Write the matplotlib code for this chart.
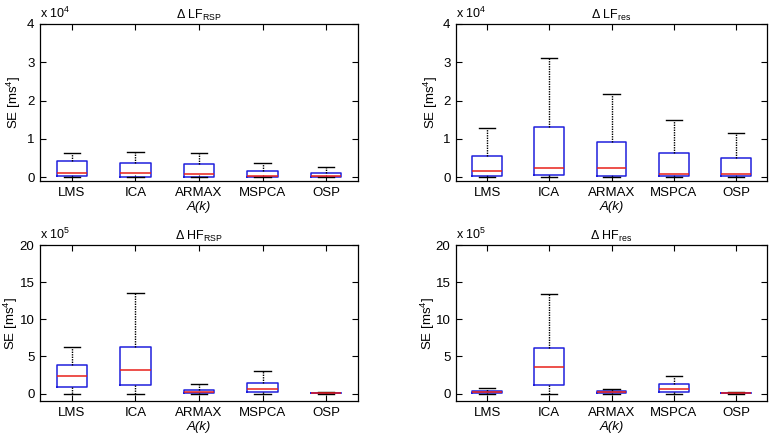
import matplotlib
matplotlib.use("Agg")
import matplotlib.pyplot as plt
from matplotlib.ticker import FuncFormatter

methods = ["LMS", "ICA", "ARMAX", "MSPCA", "OSP"]

# LF_RSP (ms^4)
lf_rsp_wlo = [0, 0, 0, 0, 0]
lf_rsp_q1 = [200, 100, 100, 100, 100]
lf_rsp_med = [1000, 1000, 800, 300, 400]
lf_rsp_q3 = [4300, 3800, 3500, 1600, 1000]
lf_rsp_whi = [6300, 6500, 6300, 3700, 2600]

# LF_res
lf_res_wlo = [0, 0, 0, 0, 0]
lf_res_q1 = [300, 500, 400, 200, 300]
lf_res_med = [1600, 2400, 2300, 900, 700]
lf_res_q3 = [5400, 13000, 9300, 6400, 4900]
lf_res_whi = [12900, 31000, 21700, 15000, 11500]

# HF_RSP
hf_rsp_wlo = [0, 0, 0, 0, 0]
hf_rsp_q1 = [85000, 120000, 5000, 18000, 2000]
hf_rsp_med = [234000, 320000, 27000, 63000, 5000]
hf_rsp_q3 = [382000, 630000, 50000, 140000, 10000]
hf_rsp_whi = [630000, 1360000, 130000, 300000, 22000]

# HF_res
hf_res_wlo = [0, 0, 0, 0, 0]
hf_res_q1 = [7000, 117000, 7000, 22000, 2000]
hf_res_med = [20000, 360000, 22000, 60000, 5000]
hf_res_q3 = [36000, 610000, 35000, 126000, 7000]
hf_res_whi = [77000, 1340000, 63000, 234000, 15000]

panels = [
    (r"$\Delta$ LF$_{\mathregular{RSP}}$", lf_rsp_wlo, lf_rsp_q1, lf_rsp_med, lf_rsp_q3, lf_rsp_whi, 4, [0, 1, 2, 3, 4], (-0.1, 4.0)),
    (r"$\Delta$ LF$_{\mathregular{res}}$", lf_res_wlo, lf_res_q1, lf_res_med, lf_res_q3, lf_res_whi, 4, [0, 1, 2, 3, 4], (-0.1, 4.0)),
    (r"$\Delta$ HF$_{\mathregular{RSP}}$", hf_rsp_wlo, hf_rsp_q1, hf_rsp_med, hf_rsp_q3, hf_rsp_whi, 5, [0, 5, 10, 15, 20], (-1.0, 20.0)),
    (r"$\Delta$ HF$_{\mathregular{res}}$", hf_res_wlo, hf_res_q1, hf_res_med, hf_res_q3, hf_res_whi, 5, [0, 5, 10, 15, 20], (-1.0, 20.0)),
]

plt.rcParams["font.family"] = ["Liberation Sans", "DejaVu Sans"]
plt.rcParams["mathtext.fontset"] = "custom"
plt.rcParams["mathtext.rm"] = "Liberation Sans"

fig = plt.figure(figsize=(7.76, 4.36), dpi=100)
W, H = 776, 436
rects = [
    (40, 24, 358, 181),
    (456, 24, 767, 181),
    (40, 245, 358, 401),
    (456, 245, 767, 401),
]
ylabel_x = [23, 440, 20, 437]

for (title, wlo, q1, med, q3, whi, exp, ticks, ylim), (l, t, r, b), lx in zip(panels, rects, ylabel_x):
    ax = fig.add_axes([l / W, 1 - b / H, (r - l) / W, (b - t) / H])
    scale = 10 ** exp
    stats = []
    for i, m in enumerate(methods):
        stats.append(dict(label=m, whislo=wlo[i], q1=q1[i], med=med[i], q3=q3[i], whishi=whi[i], fliers=[]))
    ax.bxp(stats, positions=range(1, 6), widths=0.48, capwidths=0.26, showfliers=False,
           boxprops=dict(color="#1f1fdd", linewidth=1.1),
           medianprops=dict(color="#e8201a", linewidth=1.1),
           whiskerprops=dict(color="black", linestyle=(0, (1.0, 0.8)), linewidth=1.0),
           capprops=dict(color="black", linewidth=1.0))
    ax.set_xlim(0.5, 5.5)
    ax.set_ylim(ylim[0] * scale, ylim[1] * scale)
    ax.set_yticks([v * scale for v in ticks])
    ax.yaxis.set_major_formatter(FuncFormatter(lambda v, p, s=scale: "%g" % round(v / s, 6)))
    ax.set_xticks(range(1, 6))
    ax.set_xticklabels(methods)
    ax.tick_params(direction="in", top=True, right=True, length=4, width=0.8, labelsize=9.5, pad=4)
    for s in ax.spines.values():
        s.set_linewidth(0.9)
    ax.set_title(title, fontsize=9, pad=4)
    ax.set_ylabel(r"SE [ms$^{\mathregular{4}}$]", fontsize=9.5)
    ax.yaxis.set_label_coords((lx - l) / (r - l), 0.5)
    ax.set_xlabel("A(k)", fontsize=9.5, style="italic", labelpad=2)
    ax.text(0.0, 1.02, r"x 10$^{\mathregular{%d}}$" % exp, transform=ax.transAxes, fontsize=9, ha="left", va="bottom")

fig.savefig("out.png", dpi=100)
